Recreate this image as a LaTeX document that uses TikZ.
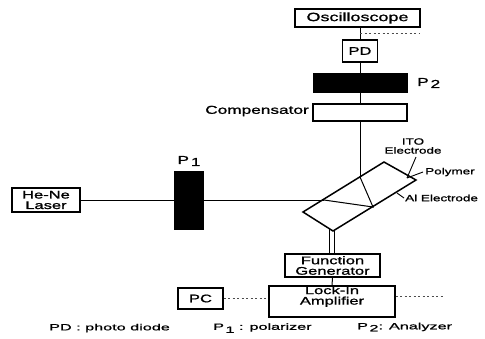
\documentclass[tikz,border=0pt]{standalone}
\usepackage{fontspec}
\setmainfont[FakeStretch=1.5,FakeBold=1.2]{Liberation Sans}
\newfontfamily\legendf[FakeStretch=1.8,FakeBold=1]{Liberation Sans}
\begin{document}
\begin{tikzpicture}[x=1pt,y=-1pt,
  box/.style={draw=black,line width=1.2pt,fill=white,inner sep=0pt,align=center,font=\fontsize{11}{10.5}\selectfont},
  blk/.style={draw=black,fill=black,inner sep=0pt},
  wire/.style={draw=black,line width=1pt},
  dots/.style={draw=black!70,line width=0.6pt,dash pattern=on 2pt off 2.5pt},
  lead/.style={draw=black,line width=0.9pt},
  txt/.style={inner sep=0pt,font=\fontsize{11.5}{11.5}\selectfont,align=center},
  sm/.style={inner sep=0pt,font=\fontsize{9}{9}\selectfont,align=center},
  leg/.style={inner sep=0pt,font=\legendf\fontsize{9}{9}\selectfont,align=left}]
\useasboundingbox (0,0) rectangle (485,338);
% boxes
\node[box,minimum width=125pt,minimum height=18pt,font=\fontsize{12}{12}\selectfont] (osc) at (357.5,18) {Oscilloscope};
\node[box,minimum width=35pt,minimum height=22pt] (pd) at (360,51) {PD};
\node[blk,minimum width=94pt,minimum height=19pt] (p2) at (360,82.5) {};
\node[box,minimum width=94pt,minimum height=17pt] (comp) at (360,112.5) {};
\node[box,minimum width=68pt,minimum height=24pt] (laser) at (46,200) {He-Ne\\Laser};
\node[blk,minimum width=29pt,minimum height=58pt] (p1) at (188.5,200) {};
\node[box,minimum width=95pt,minimum height=23pt] (fg) at (332.5,265.5) {Function\\Generator};
\node[box,minimum width=126pt,minimum height=31pt] (li) at (332,301.5) {};
\node[box,draw=none,fill=none] (litext) at (332,296.5) {Lock-In\\Amplifier};
\node[box,minimum width=45pt,minimum height=21pt] (pc) at (200.5,298.5) {PC};
% sample
\coordinate (st) at (384,162);
\coordinate (sr) at (416,180);
\coordinate (sb) at (333,231);
\coordinate (sl) at (303,212);
\coordinate (hitA) at (360,177);
\coordinate (hitB) at (373,207);
\coordinate (hitC) at (324,200);
\draw[line width=1.5pt,line join=miter,fill=white] (st)--(sr)--(sb)--(sl)--cycle;
% beam
\draw[wire] (laser.east) -- (p1.west);
\draw[wire] (p1.east) -- (hitC);
\draw[wire] (hitC) -- (hitB) -- (hitA);
\draw[wire] (hitA) -- (360,121);
\draw[wire] (comp.north -| pd) -- (p2.south -| pd);
\draw[wire] (p2.north -| pd) -- (pd.south);
\draw[wire] (pd.north) -- (pd.north |- osc.south);
% connections
\coordinate (fa) at (329,228);
\coordinate (fb) at (334,231);
\draw[wire] (fa) -- (fa |- fg.north);
\draw[wire] (fb) -- (fb |- fg.north);
\draw[wire] (fg.south) -- (li.north);
\draw[dots] (pc.east) -- (li.west |- pc.east);
\coordinate (lo) at (445,296);
\draw[dots] (li.east |- lo) -- (lo);
\coordinate (oa) at (360,33);
\coordinate (ob) at (420,33);
\draw[dots] (oa) -- (ob);
% leaders
\coordinate (ito) at (416,157);
\coordinate (poly) at (423,172);
\coordinate (al) at (404,198);
\coordinate (hit) at (407,178);
\coordinate (alh) at (397,193);
\draw[lead] (ito) -- (hit);
\draw[lead] (poly) -- (hit);
\draw[lead] (al) -- (alh);
% labels
\node[txt,anchor=east] (tcomp) at (309,111) {Compensator};
\node[txt,anchor=west] (tp2) at (417,83) {P\raisebox{-2pt}{\,2}};
\node[txt] (tp1) at (189,161) {P\raisebox{-2pt}{\,1}};
\node[sm] (tito) at (413,146) {ITO\\Electrode};
\node[sm,anchor=west] (tpoly) at (425,172) {Polymer};
\node[sm,anchor=west] (tal) at (405,198) {Al Electrode};
\node[leg,anchor=west] (l1) at (49,328) {PD : photo diode};
\node[leg,anchor=west] (l2) at (213,328) {P\raisebox{-3pt}{\,1} : polarizer};
\node[leg,anchor=west] (l3) at (357,327) {P\raisebox{-2pt}{\,2}: Analyzer};
\end{tikzpicture}
\end{document}
